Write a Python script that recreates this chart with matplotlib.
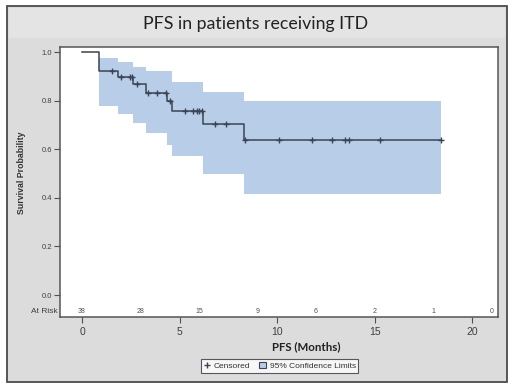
import numpy as np
import matplotlib
matplotlib.use("Agg")
import matplotlib.pyplot as plt
from matplotlib.patches import Rectangle, Patch
from matplotlib.lines import Line2D
import matplotlib.transforms as mtransforms

# ---- data ----
event_times = [0.0, 0.87, 1.85, 2.6, 3.28, 4.37, 4.6, 6.2, 8.3]
survival    = [1.0, 0.921, 0.896, 0.870, 0.833, 0.800, 0.757, 0.703, 0.638]
upper_ci    = [np.nan, 0.975, 0.957, 0.940, 0.922, 0.922, 0.875, 0.837, 0.798]
lower_ci    = [np.nan, 0.778, 0.745, 0.707, 0.665, 0.617, 0.572, 0.498, 0.414]
censor_times = [1.55, 1.98, 2.45, 2.55, 2.8, 3.36, 3.85, 4.3, 4.5, 5.3, 5.7,
                5.9, 6.0, 6.15, 6.8, 7.4, 8.35, 10.1, 11.8, 12.8, 13.5, 13.7,
                15.3, 18.4]
risk_times = [0, 3, 6, 9, 12, 15, 18, 21]
at_risk    = [38, 28, 15, 9, 6, 2, 1, 0]
x_ticks = [0, 5, 10, 15, 20]
y_ticks = [0.0, 0.2, 0.4, 0.6, 0.8, 1.0]

W, H = 520, 392
fig = plt.figure(figsize=(W / 100, H / 100), dpi=100, facecolor="white")

def fx(px):
    return px / W

def fy(py):
    return 1 - py / H

# gray panel and title band
fig.patches.append(Rectangle((fx(7), fy(382)), fx(507) - fx(7), fy(6) - fy(382),
                             transform=fig.transFigure, facecolor="#dcdcdc",
                             edgecolor="#4a4a4a", linewidth=1.3, zorder=-2))
fig.patches.append(Rectangle((fx(9), fy(38)), fx(505) - fx(9), fy(8) - fy(38),
                             transform=fig.transFigure, facecolor="#e4e4e4",
                             edgecolor="none", zorder=-1))
fig.text(fx(256), fy(24), "PFS in patients receiving ITD", ha="center", va="center",
         fontsize=12.8, family=["Lato", "DejaVu Sans"], color="#222222")

ax = fig.add_axes([fx(60), fy(317), fx(498) - fx(60), fy(47) - fy(317)])
ax.set_facecolor("white")
ax.set_zorder(1)

t = np.array(event_times)
s = np.array(survival)
end_t = max(censor_times)

# confidence band
bt = np.append(t[1:], end_t)
bu = np.append(np.array(upper_ci)[1:], upper_ci[-1])
bl = np.append(np.array(lower_ci)[1:], lower_ci[-1])
ax.fill_between(bt, bl, bu, step="post", facecolor="#b8cee8", edgecolor="none", zorder=1)

# KM curve
ct = np.append(t, end_t)
cs = np.append(s, s[-1])
ax.step(ct, cs, where="post", color="#3a4454", linewidth=1.1, zorder=3)

# censored marks
c = np.array(censor_times)
idx = np.searchsorted(t, c, side="right") - 1
ax.plot(c, s[idx], linestyle="none", marker="+", markersize=5, markeredgewidth=1.0,
        color="#3a4454", zorder=4)

ax.set_xlim(-1.13, 21.33)
ax.set_ylim(-0.0905, 1.0206)
ax.set_xticks(x_ticks)
ax.set_yticks(y_ticks)
ax.set_yticklabels([f"{v:.1f}" for v in y_ticks])
ax.tick_params(axis="y", direction="out", length=4, width=0.8, colors="#505050",
               labelsize=5.5, labelcolor="#404040", pad=1.5)
ax.tick_params(axis="x", direction="out", length=4, width=0.8, colors="#505050",
               labelsize=7.5, labelcolor="#404040", pad=3)
for tl in ax.get_xticklabels() + ax.get_yticklabels():
    tl.set_family(["Liberation Sans", "DejaVu Sans"])
for sp in ax.spines.values():
    sp.set_color("#555555")
    sp.set_linewidth(1.1)

# at risk row
for rt, n in zip(risk_times, at_risk):
    ax.text(rt, -0.066, str(n), ha="center", va="center", fontsize=5,
            color="#505050", family=["Liberation Sans", "DejaVu Sans"])
trans = mtransforms.blended_transform_factory(ax.transAxes, ax.transData)
ax.text(-0.006, -0.066, "At Risk", transform=trans, ha="right", va="center",
        fontsize=6, color="#404040", family=["Liberation Sans", "DejaVu Sans"],
        clip_on=False)

# axis labels
fig.text(fx(22), fy(173), "Survival Probability", rotation=90, ha="center", va="center",
         fontsize=6.3, fontweight="bold", color="#333333",
         family=["Liberation Sans", "DejaVu Sans"])
fig.text(fx(306), fy(347), "PFS (Months)", ha="center", va="center",
         fontsize=8.3, fontweight="bold", color="#222222", family=["Lato", "DejaVu Sans"])

# legend
handles = [
    Line2D([], [], linestyle="none", marker="+", markersize=5, color="#3a4454",
           markeredgewidth=1.0, label="Censored"),
    Patch(facecolor="#b8cee8", edgecolor="#3a4454", linewidth=0.8,
          label="95% Confidence Limits"),
]
leg = fig.legend(handles=handles, loc="center", bbox_to_anchor=(fx(279.5), fy(366)),
                 ncol=2, frameon=True, fancybox=False,
                 prop={"family": ["Liberation Sans", "DejaVu Sans"], "size": 6},
                 handlelength=0.8, handleheight=0.8, handletextpad=0.5,
                 columnspacing=1.0, borderpad=0.3, labelcolor="#333333")
leg.get_frame().set_edgecolor("#333333")
leg.get_frame().set_linewidth(0.8)
leg.get_frame().set_facecolor("white")

fig.savefig("out.png", dpi=100, facecolor="white")
